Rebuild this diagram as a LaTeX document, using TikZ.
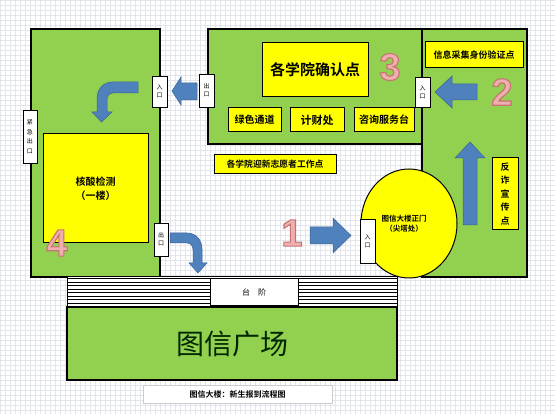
\documentclass[tikz,border=0pt]{standalone}
\usepackage{fontspec}
\setmainfont{Liberation Sans}
\newfontfamily\cjk{Noto Sans CJK SC}
\newfontfamily\cjkb{Noto Sans CJK SC Bold}
\definecolor{lawn}{HTML}{92D050}
\definecolor{sign}{HTML}{FFFF00}
\definecolor{arrowblue}{HTML}{4F81BD}
\definecolor{arrowedge}{HTML}{3A6496}
\definecolor{stepno}{HTML}{F0AFAF}
\definecolor{gridline}{HTML}{E2E6EC}
% outlined digit (fill and stroke)
\newcommand{\outlined}[1]{\special{pdf:literal direct 0.78 0.45 0.45 RG 1.1 w 2 Tr}#1\special{pdf:literal direct 0 Tr}}
\tikzset{
  door/.style={draw=black, fill=white, line width=0.8pt, inner sep=0pt, align=center,
    font=\cjk\fontsize{6}{8}\selectfont},
  desk/.style={draw=black, fill=sign, line width=1pt, inner sep=0pt, align=center},
  bigno/.style={text=stepno, font=\bfseries\fontsize{38}{38}\selectfont},
  blockarrow/.style={fill=arrowblue, draw=arrowedge, line width=0.5pt},
  building/.style={fill=lawn, draw=black, line width=1.2pt},
}

\begin{document}
\begin{tikzpicture}[x=1pt, y=-1pt]
    \useasboundingbox (0,0) rectangle (555,414);
    % Paper grid
    \fill[white] (0,0) rectangle (555,414);
    \foreach \gx in {0,5,...,555} \draw[gridline, line width=0.3pt] (\gx,0) -- (\gx,414);
    \foreach \gy in {0,5,...,410} \draw[gridline, line width=0.3pt] (0,\gy) -- (555,\gy);

    % Buildings
    \draw[building] (31,29) rectangle (160,277);
    \draw[building] (208,29) rectangle (422,144);
    \draw[building] (422,29) rectangle (527,277);

    % Steps
    \draw[fill=white, line width=1pt] (67,277) rectangle (397,307);
    \foreach \k in {0,...,8} \draw[line width=0.8pt] (67,{278.5+3.5*\k}) -- (397,{278.5+3.5*\k});
    \node[draw=black, fill=white, line width=1pt, minimum width=88pt, minimum height=27pt,
      font=\cjk\fontsize{8}{8}\selectfont] (steps) at (254,292.5) {台\hspace{1em}阶};

    % Square
    \draw[building] (67,307) rectangle (397,380);
    \node[text=black!85!green, font=\cjk\fontsize{28}{28}\selectfont] (square) at (232,344) {图信广场};

    % Caption
    \node[draw=gray!40, fill=white, minimum width=189pt, minimum height=18pt,
      font=\cjkb\fontsize{8}{8}\selectfont] (caption) at (237.5,394) {图信大楼：新生报到流程图};

    % Yellow desks
    \node[desk, minimum width=105pt, minimum height=109pt, font=\cjkb\fontsize{10}{14}\selectfont]
      (test) at (95.5,188.5) {核酸检测\\（一楼）};
    \node[desk, minimum width=106pt, minimum height=54pt, font=\cjkb\fontsize{15}{15}\selectfont]
      (confirm) at (315,70) {各学院确认点};
    \node[desk, minimum width=53pt, minimum height=24pt, font=\cjkb\fontsize{10}{10}\selectfont]
      (green) at (254.5,120) {绿色通道};
    \node[desk, minimum width=54pt, minimum height=24pt, font=\cjkb\fontsize{11}{11}\selectfont]
      (finance) at (317,120) {计财处};
    \node[desk, minimum width=60pt, minimum height=24pt, font=\cjkb\fontsize{10}{10}\selectfont]
      (service) at (384,120) {咨询服务台};
    \node[desk, minimum width=98pt, minimum height=26pt, font=\cjkb\fontsize{9}{9}\selectfont]
      (idcheck) at (474,55) {信息采集身份验证点};
    \node[desk, minimum width=122pt, minimum height=19pt, font=\cjkb\fontsize{8.8}{8.8}\selectfont]
      (volunteer) at (275,164.5) {各学院迎新志愿者工作点};
    \node[desk, minimum width=26pt, minimum height=72pt, font=\cjkb\fontsize{9}{13.5}\selectfont]
      (antifraud) at (505,194) {反\\诈\\宣\\传\\点};

    % Main gate
    \draw[fill=sign, line width=1pt] (409,223.5) ellipse [x radius=48, y radius=54.5];
    \node[font=\cjkb\fontsize{7.5}{10}\selectfont, align=center] (gate) at (404,224) {图信大楼正门\\（尖塔处）};

    % Doors
    \node[door, minimum width=15pt, minimum height=31pt] (in1) at (159.5,91.5) {入\\口};
    \node[door, minimum width=15pt, minimum height=33pt] (out3) at (206.5,90.5) {出\\口};
    \node[door, minimum width=15pt, minimum height=30pt] (in3) at (422.5,92) {入\\口};
    \node[door, minimum width=14pt, minimum height=53pt, font=\cjk\fontsize{6}{9.5}\selectfont]
      (emergency) at (30,136.5) {紧\\急\\出\\口};
    \node[door, minimum width=14pt, minimum height=33pt] (out4) at (161,239.5) {出\\口};
    \node[door, minimum width=15pt, minimum height=44pt] (in2) at (367.5,241) {入\\口};

    % Block arrows
    \draw[blockarrow] (310,227) -- (333,227) -- (333,218) -- (351,235.5) -- (333,253) -- (333,244) -- (310,244) -- cycle;
    \draw[blockarrow] (477,84) -- (452,84) -- (452,76) -- (435,92) -- (452,108) -- (452,100) -- (477,100) -- cycle;
    \draw[blockarrow] (463,225) -- (463,158) -- (455,158) -- (470,142) -- (485,158) -- (477,158) -- (477,225) -- cycle;
    \draw[blockarrow] (197,83) -- (181,83) -- (181,77) -- (172,91) -- (181,105) -- (181,100) -- (197,100) -- cycle;
    \draw[blockarrow] (138,82) -- (113,82) .. controls (103,82) and (97,89) .. (97,99) -- (97,112) -- (92,112)
      -- (101.5,122) -- (112,112) -- (107,112) -- (107,100) .. controls (107,96) and (109,93) .. (113,93) -- (138,93) -- cycle;
    \draw[blockarrow] (170,233) -- (187,233) .. controls (196,233) and (202,240) .. (202,249) -- (202,263) -- (207,263)
      -- (198,273) -- (189,263) -- (193,263) -- (193,250) .. controls (193,246) and (191,243) .. (187,243) -- (170,243) -- cycle;

    % Step numbers
    \node[bigno] (no1) at (292,233) {\outlined{1}};
    \node[bigno] (no2) at (502,92) {\outlined{2}};
    \node[bigno] (no3) at (390,67) {\outlined{3}};
    \node[bigno] (no4) at (57,243) {\outlined{4}};
\end{tikzpicture}
\end{document}
